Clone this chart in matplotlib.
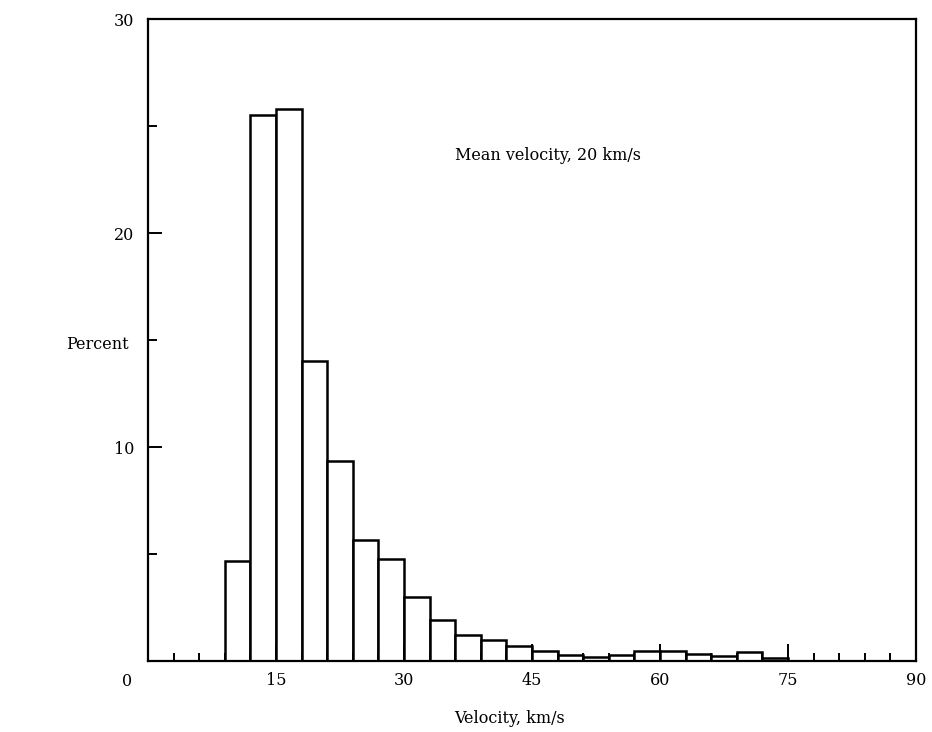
import numpy as np
import matplotlib
matplotlib.use('Agg')
import matplotlib.pyplot as plt
from matplotlib.ticker import MultipleLocator

# histogram bins: 3 km/s wide, starting at 9 km/s
bin_left = [9, 12, 15, 18, 21, 24, 27, 30, 33, 36, 39,
            42, 45, 48, 51, 54, 57, 60, 63, 66, 69, 72]
percent = [4.65, 25.5, 25.8, 14.0, 9.35, 5.65, 4.75, 3.0, 1.9, 1.2, 1.0,
           0.68, 0.47, 0.3, 0.2, 0.3, 0.47, 0.47, 0.32, 0.24, 0.4, 0.13]
bin_width = 3
x_ticks = [15, 30, 45, 60, 75, 90]
y_ticks = [10, 20, 30]

plt.rcParams['font.family'] = ['DejaVu Serif']
plt.rcParams['font.size'] = 11.5

fig = plt.figure(figsize=(9.32, 7.32), dpi=100)
ax = fig.add_axes([0.1588, 0.097, 0.824, 0.877])

ax.bar(bin_left, percent, width=bin_width, align='edge',
       facecolor='white', edgecolor='black', linewidth=1.8)

ax.set_xlim(0, 90)
ax.set_ylim(0, 30)

for side in ('left', 'right', 'top', 'bottom'):
    ax.spines[side].set_linewidth(1.6)

ax.xaxis.set_major_locator(MultipleLocator(15))
ax.xaxis.set_minor_locator(MultipleLocator(3))
ax.yaxis.set_major_locator(MultipleLocator(10))
ax.yaxis.set_minor_locator(MultipleLocator(5))
ax.set_xticks(x_ticks)
ax.set_xticklabels([str(t) for t in x_ticks])
ax.set_yticks(y_ticks)
ax.set_yticklabels([str(t) for t in y_ticks])

ax.tick_params(axis='x', which='major', direction='in', length=12,
               width=1.4, pad=8)
ax.tick_params(axis='x', which='minor', direction='in', length=6, width=1.4)
ax.tick_params(axis='y', which='major', direction='in', length=10,
               width=1.4, pad=10)
ax.tick_params(axis='y', which='minor', direction='in', length=6.5, width=1.4)

# shared corner zero
ax.annotate('0', xy=(0, 0), xycoords='axes fraction', xytext=(-15, -15),
            textcoords='offset points', ha='center', va='center')

ax.text(36, 23.6, 'Mean velocity, 20 km/s', ha='left', va='center')

fig.text(0.104, 0.529, 'Percent', ha='center', va='center')
fig.text(0.547, 0.019, 'Velocity, km/s', ha='center', va='center')

fig.savefig('out.png', dpi=100)
